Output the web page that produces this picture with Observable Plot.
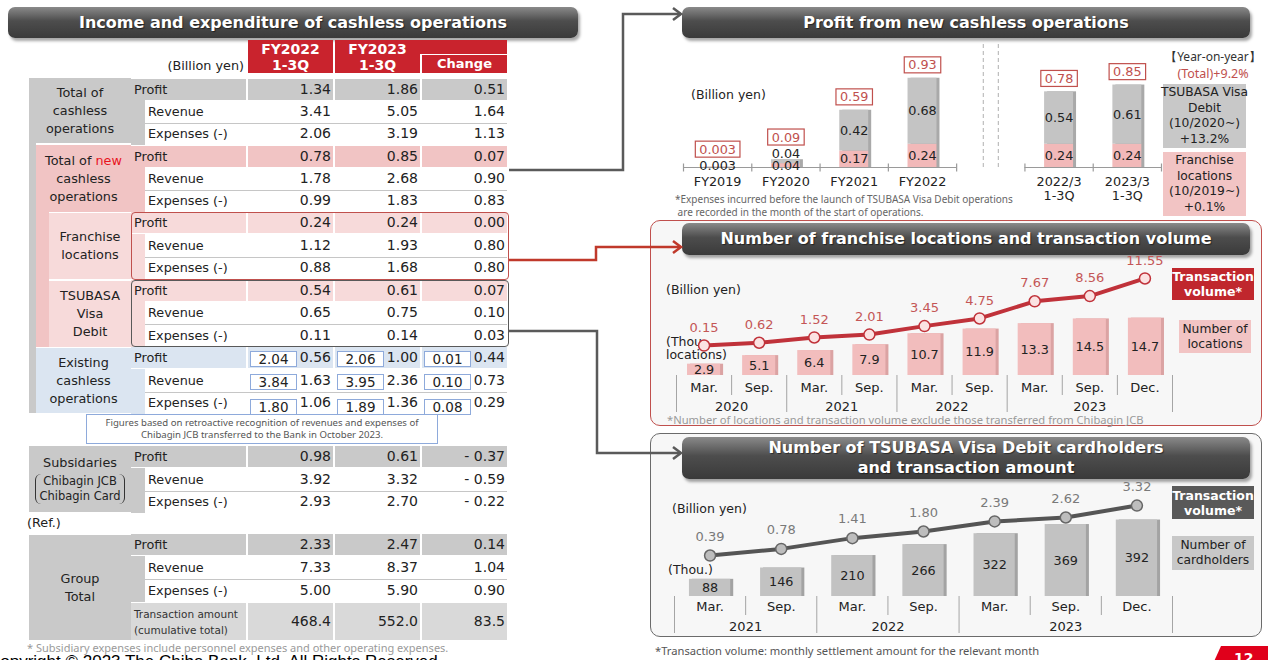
<!DOCTYPE html>
<html><head><meta charset="utf-8">
<script src="https://cdn.jsdelivr.net/npm/d3@7"></script>
<script src="https://cdn.jsdelivr.net/npm/@observablehq/plot@0.6"></script>
<style>
html,body{margin:0;padding:0;}
body{width:1268px;height:660px;overflow:hidden;background:#fff;position:relative;font-family:"DejaVu Sans",sans-serif;}
.a{position:absolute;box-sizing:border-box;white-space:nowrap;}
.cc{display:flex;flex-direction:column;align-items:center;justify-content:center;text-align:center;}
.tb{position:absolute;box-sizing:border-box;border-radius:7px;background:linear-gradient(#8a8a8a,#4d4d4d 45%,#3a3a3a);box-shadow:2px 3px 3px rgba(0,0,0,.35);color:#fff;font:bold 16px "DejaVu Sans";display:flex;flex-direction:column;align-items:center;justify-content:center;text-align:center;text-shadow:1px 1px 1px rgba(0,0,0,.5);line-height:20px;}
svg.plot-host{display:block;overflow:visible;}
</style></head>
<body>
<script>
// ================= DATA =================
// Left table
const columnHeaders = [["FY2022", "1-3Q"], ["FY2023", "1-3Q"], ["Change"]];
const rowLabels = ["Profit", "Revenue", "Expenses (-)"];
const groupLabelHtml = [
  "Total of<br>cashless<br>operations",
  "Total of <span style='color:#e8141e'>new</span><br>cashless<br>operations",
  "Franchise<br>locations",
  "TSUBASA<br>Visa<br>Debit",
  "Existing<br>cashless<br>operations",
  "Subsidaries<div style='border-left:1px solid #333;border-right:1px solid #333;border-radius:6px;padding:0 3px;font-size:11.5px;line-height:15px;margin-top:2px'>Chibagin JCB<br>Chibagin Card</div>",
  "Group<br>Total"
];
const fy2022Values = [1.34, 3.41, 2.06, 0.78, 1.78, 0.99, 0.24, 1.12, 0.88, 0.54, 0.65, 0.11, 0.56, 1.63, 1.06, 0.98, 3.92, 2.93, 2.33, 7.33, 5.00];
const fy2023Values = [1.86, 5.05, 3.19, 0.85, 2.68, 1.83, 0.24, 1.93, 1.68, 0.61, 0.75, 0.14, 1.00, 2.36, 1.36, 0.61, 3.32, 2.70, 2.47, 8.37, 5.90];
const changeValues = [0.51, 1.64, 1.13, 0.07, 0.90, 0.83, 0.00, 0.80, 0.80, 0.07, 0.10, 0.03, 0.44, 0.73, 0.29, -0.37, -0.59, -0.22, 0.14, 1.04, 0.90];
const existingRetro2022 = [2.04, 3.84, 1.80];
const existingRetro2023 = [2.06, 3.95, 1.89];
const existingRetroChange = [0.01, 0.10, 0.08];
const transactionCumulative = [468.4, 552.0, 83.5];

// Profit from new cashless operations
const profitPeriods = ["FY2019", "FY2020", "FY2021", "FY2022", "2022/3\n1-3Q", "2023/3\n1-3Q"];
const franchiseProfit = [0.003, 0.04, 0.17, 0.24, 0.24, 0.24];
const visaProfit = [0, 0.04, 0.42, 0.68, 0.54, 0.61];
const totalProfit = [0.003, 0.09, 0.59, 0.93, 0.78, 0.85];

// Franchise locations and transaction volume
const locMonths = ["Mar.", "Sep.", "Mar.", "Sep.", "Mar.", "Sep.", "Mar.", "Sep.", "Dec."];
const locYears = ["2020", "2020", "2021", "2021", "2022", "2022", "2023", "2023", "2023"];
const locCount = [2.9, 5.1, 6.4, 7.9, 10.7, 11.9, 13.3, 14.5, 14.7];
const locVolume = [0.15, 0.62, 1.52, 2.01, 3.45, 4.75, 7.67, 8.56, 11.55];

// TSUBASA Visa Debit cardholders and transaction amount
const visaMonths = ["Mar.", "Sep.", "Mar.", "Sep.", "Mar.", "Sep.", "Dec."];
const visaYears = ["2021", "2021", "2022", "2022", "2023", "2023", "2023"];
const visaHolders = [88, 146, 210, 266, 322, 369, 392];
const visaVolume = [0.39, 0.78, 1.41, 1.80, 2.39, 2.62, 3.32];

// ================= LAYOUT HELPERS =================
const page = document.body;
function el(x, y, w, h, css, html, cls) {
  const d = document.createElement("div");
  d.className = cls || "a";
  d.style.cssText = `left:${x}px;top:${y}px;width:${w}px;height:${h}px;` + (css || "");
  if (html != null) d.innerHTML = html;
  page.appendChild(d);
  return d;
}
function mount(svg, x, y) {
  const d = el(x, y, +svg.getAttribute("width"), +svg.getAttribute("height"), "");
  svg.classList.add("plot-host");
  d.appendChild(svg);
  return svg;
}
const LBL = "font-family:'DejaVu Sans';font-size:12.8px;color:#222;";
const NUM = "font-family:'DejaVu Sans';font-size:14px;color:#222;";
const fmtChange = v => v < 0 ? "- " + Math.abs(v).toFixed(2) : v.toFixed(2);

// ================= LEFT TABLE =================
el(8, 7, 570, 31, "", "Income and expenditure of cashless operations", "tb");

const RED = "#c9232d", GREY = "#c9c9c9", PINK = "#f1c4c4", LPINK = "#f7dada", BLUE = "#dbe5f1", TXG = "#d9d9d9";
const ROW_Y = [90, 112, 134, 157, 179, 201, 223, 246, 268, 291, 313, 336, 358, 381, 403, 457, 480, 502, 545, 568, 591];
const COL_X = [[248, 333], [335, 420], [422, 507]];
const groupBox = [
  { x: 29, y: 78, b: 143, bg: GREY, row: GREY },
  { x: 36, y: 145, b: 212, bg: PINK, row: PINK },
  { x: 49, y: 213, b: 279, bg: LPINK, row: LPINK },
  { x: 49, y: 281, b: 347, bg: LPINK, row: LPINK },
  { x: 36, y: 348, b: 413, bg: BLUE, row: BLUE },
  { x: 29, y: 446, b: 512, bg: GREY, row: GREY },
  { x: 29, y: 535, b: 640, bg: GREY, row: GREY }
];

// header
const HB = `background:${RED};color:#fff;font:bold 14px 'DejaVu Sans';`;
el(160, 57, 84, 18, LBL + "text-align:right;line-height:18px;", "(Billion yen)");
el(COL_X[0][0], 40, COL_X[0][1] - COL_X[0][0], 33, HB + "line-height:16px;padding-top:1px;text-align:center;", columnHeaders[0].join("<br>"));
el(COL_X[1][0], 40, COL_X[2][1] - COL_X[1][0], 14, HB);
el(COL_X[1][0], 40, COL_X[1][1] - COL_X[1][0], 33, "color:#fff;font:bold 14px 'DejaVu Sans';line-height:16px;padding-top:1px;text-align:center;background:" + RED, columnHeaders[1].join("<br>"));
el(COL_X[2][0], 55, COL_X[2][1] - COL_X[2][0], 18, HB + "font-size:13px;line-height:18px;text-align:center;", columnHeaders[2][0]);

// strips
el(29, 143, 7, 270, "background:" + GREY);
el(36, 212, 13, 135, "background:" + PINK);

// group labels
groupBox.forEach((g, i) => el(g.x, g.y, 131 - g.x, g.b - g.y, `background:${g.bg};line-height:18px;` + LBL, "<div>" + groupLabelHtml[i] + "</div>", "a cc"));

// rows
ROW_Y.forEach((c, r) => {
  const gi = Math.floor(r / 3), k = r % 3, g = groupBox[gi];
  const top = c - 11;
  if (k === 0) {
    el(131, top, 115, 21, `background:${g.row};padding-left:3px;line-height:21px;` + LBL, rowLabels[0]);
    COL_X.forEach(([a, b]) => el(a, top, b - a, 21, "background:" + g.row));
  } else {
    el(131, top - 1, 14, 23, "background:" + g.bg);
    el(148, top, 98, 21, "line-height:21px;" + LBL, rowLabels[k]);
    if (k === 1) el(145, c + 11, 362, 1, "background:#c6c6c6");
  }
  const vals = [fy2022Values[r].toFixed(2), fy2023Values[r].toFixed(2), fmtChange(changeValues[r])];
  COL_X.forEach(([a, b], j) => el(a, top, b - a - 2, 21, "text-align:right;line-height:21px;" + NUM, vals[j]));
  if (gi === 4) {
    const retro = [existingRetro2022[k], existingRetro2023[k], existingRetroChange[k]];
    COL_X.forEach(([a, b], j) => el(a + 2, c - 7 + (k === 2 ? 3 : 0), 47, 16,
      "background:#fff;border:1px solid #8eaadb;text-align:center;line-height:14px;" + NUM + "font-size:13.5px;", retro[j].toFixed(2)));
  }
});
// outlines
el(131, 212, 378, 68, "border:1.5px solid #c0504d;border-radius:4px;");
el(131, 280, 378, 67, "border:1.5px solid #595959;border-radius:4px;");
// note
el(86, 414, 352, 30, "border:1px solid #8eaadb;font-family:'Noto Sans';font-size:9.6px;color:#555;line-height:12px;", "<div>Figures based on retroactive recognition of revenues and expenses of<br>Chibagin JCB transferred to the Bank in October 2023.</div>", "a cc");
el(27, 514, 60, 18, LBL + "line-height:18px;", "(Ref.)");
// transaction row
el(131, 603, 115, 37, `background:${TXG};padding-left:3px;font:10.5px 'DejaVu Sans';color:#333;line-height:16px;padding-top:3px;white-space:normal;`, "Transaction amount<br>(cumulative total)");
COL_X.forEach(([a, b], j) => {
  el(a, 603, b - a, 37, "background:" + TXG);
  el(a, 603, b - a - 2, 37, "text-align:right;line-height:37px;" + NUM, transactionCumulative[j].toFixed(1));
});
el(27, 641, 470, 14, "font-family:'Noto Sans';font-size:11px;color:#9a9a9a;line-height:14px;", "* Subsidiary expenses include personnel expenses and other operating expenses.");
el(-12, 652, 520, 20, "font-family:'Liberation Sans';font-size:17px;color:#000;line-height:20px;", "Copyright © 2023 The Chiba Bank, Ltd. All Rights Reserved.");

// ================= RIGHT PANELS =================
el(650, 220, 612, 206, "border:1.5px solid #c0504d;border-radius:10px;background:#f7f7f7;");
el(650, 433, 612, 204, "border:1.5px solid #6b6b6b;border-radius:10px;background:#f7f7f7;");
el(682, 7, 568, 31, "", "Profit from new cashless operations", "tb");
el(682, 223, 568, 32, "", "Number of franchise locations and transaction volume", "tb");
el(682, 437, 568, 42, "", "Number of TSUBASA Visa Debit cardholders<br>and transaction amount", "tb");

const vline = { draw(ctx, size) { const r = Math.sqrt(size / Math.PI); ctx.moveTo(0, -r); ctx.lineTo(0, r); } };
const baseStyle = { fontFamily: "DejaVu Sans", fontSize: "12.8px", color: "#222", background: "transparent", overflow: "visible" };
const TOTAL_RED = "#c0504d";

// ---------- Chart 1: Profit ----------
const gapSlot = 4, slotCount = profitPeriods.length + 1;
const slotOf = i => i < gapSlot ? i : i + 1;
const fmtP = v => v < 0.01 ? v.toFixed(3) : v.toFixed(2);
const profitRows = profitPeriods.map((p, i) => {
  const d = { period: p, s: slotOf(i), fr: franchiseProfit[i], visa: visaProfit[i], total: totalProfit[i] };
  d.pinkY = Math.max(d.fr / 2, 0.02);
  d.greyY = Math.max(d.fr + d.visa / 2, 0.145);
  const topLbl = d.visa > 0 ? d.greyY : d.pinkY;
  d.boxY = Math.max(d.fr + d.visa + 0.134, topLbl + 0.165);
  return d;
});
const BW1 = 0.212;
const edges1 = [...d3.range(-0.5, gapSlot, 1), ...d3.range(gapSlot + 0.5, slotCount, 1)];
const axisSegs = [{ a: -0.5, b: gapSlot - 0.5 }, { a: gapSlot + 0.5, b: slotCount - 0.5 }];
const chart1 = Plot.plot({
  width: 478, height: 170, marginLeft: 0, marginRight: 0, marginTop: 0, marginBottom: 47,
  x: { domain: [-0.5, slotCount - 0.5], axis: null },
  y: { domain: [0, 1.268], axis: null },
  style: baseStyle,
  marks: [
    Plot.ruleX([gapSlot - 0.11, gapSlot + 0.11], { stroke: "#b0b0b0", strokeDasharray: "4,3" }),
    Plot.rect(profitRows, { x1: d => d.s - BW1, x2: d => d.s + BW1, y1: 0, y2: d => d.fr + d.visa, dx: 3, fill: "#a9a9a9" }),
    Plot.rect(profitRows, { x1: d => d.s - BW1, x2: d => d.s + BW1, y1: 0, y2: "fr", fill: "#f2b9b9" }),
    Plot.rect(profitRows.filter(d => d.visa > 0), { x1: d => d.s - BW1, x2: d => d.s + BW1, y1: "fr", y2: d => d.fr + d.visa, fill: "#c4c4c4" }),
    Plot.ruleY(axisSegs, { x1: "a", x2: "b", y: 0, stroke: "#9a9a9a", strokeWidth: 1.2 }),
    Plot.dot(edges1, { x: d => d, y: 0, r: 4, symbol: vline, stroke: "#9a9a9a", strokeWidth: 1.2, fill: "none" }),
    Plot.text(profitRows, { x: "s", y: "pinkY", text: d => fmtP(d.fr), fill: "#222" }),
    Plot.text(profitRows.filter(d => d.visa > 0), { x: "s", y: "greyY", text: d => fmtP(d.visa), fill: "#222" }),
    Plot.text(profitRows, { x: "s", y: "boxY", text: d => fmtP(d.total), fill: TOTAL_RED }),
    Plot.text(profitRows, { x: "s", y: 0, text: "period", dy: 8, lineAnchor: "top", lineHeight: 1.1, fill: "#222" })
  ]
});
mount(chart1, 683, 44);
// frame each total label with a red-outlined box measured from the rendered text
d3.select(chart1).selectAll("text").filter(function () {
  const f = (this.getAttribute("fill") || this.parentNode.getAttribute("fill") || "").toLowerCase();
  return f === TOTAL_RED;
}).each(function () {
  const b = this.getBBox();
  d3.select(this.parentNode).insert("rect", () => this)
    .attr("transform", this.getAttribute("transform"))
    .attr("x", b.x - 4).attr("y", b.y - 0.5).attr("width", b.width + 8).attr("height", b.height + 1)
    .attr("fill", "#fff").attr("stroke", TOTAL_RED).attr("stroke-width", 1.2);
});
el(691, 87, 100, 16, "font:12.5px 'DejaVu Sans';color:#222;line-height:16px;", "(Billion yen)");
el(675, 193, 360, 28, "font-family:'Noto Sans';font-size:10px;color:#666;line-height:13px;", "*Expenses incurred before the launch of TSUBASA Visa Debit operations<br>&nbsp;are recorded in the month of the start of operations.");
// legend 1
el(1150, 49, 126, 16, "font-family:'Noto Sans';font-size:12px;color:#333;line-height:16px;text-align:center;", "【Year-on-year】");
el(1150, 66, 126, 16, "font-family:'Noto Sans';font-size:12.5px;color:#c0504d;line-height:16px;text-align:center;", "(Total)+9.2%");
el(1163, 84, 83, 64, "background:#c8c8c8;font:12.3px 'DejaVu Sans';color:#222;line-height:15.5px;", "<div>TSUBASA Visa<br>Debit<br>(10/2020~)<br>+13.2%</div>", "a cc");
el(1163, 152, 83, 64, "background:#f2c4c4;font:12.3px 'DejaVu Sans';color:#222;line-height:15.5px;", "<div>Franchise<br>locations<br>(10/2019~)<br>+0.1%</div>", "a cc");

// ---------- helpers for the two monthly charts ----------
function edgesOf(rows) {
  const yearE = [-0.5], monthE = [];
  rows.forEach((d, i) => { if (i > 0) (d.yr !== rows[i - 1].yr ? yearE : monthE).push(i - 0.5); });
  yearE.push(rows.length - 0.5);
  const centers = d3.groups(rows, d => d.yr).map(([yr, arr]) => ({ yr, c: d3.mean(arr, d => d.i) }));
  return { yearE, monthE, centers };
}

// ---------- Chart 2: franchise ----------
const locRows = locMonths.map((m, i) => ({ i, m, yr: locYears[i], n: locCount[i], v: locVolume[i] }));
const locLineY = v => 7.46 + 1.508 * v; // secondary axis mapped onto bar axis
const e2 = edgesOf(locRows);
const chart2 = Plot.plot({
  width: 496, height: 160, marginLeft: 0, marginRight: 0, marginTop: 0, marginBottom: 41,
  x: { domain: [-0.5, locRows.length - 0.5] },
  y: { domain: [0, 30.51], axis: null },
  style: baseStyle,
  marks: [
    Plot.rect(locRows, { x1: d => d.i - 0.3, x2: d => d.i + 0.3, y1: 0, y2: "n", dx: 3, fill: "#dba3a3" }),
    Plot.rect(locRows, { x1: d => d.i - 0.3, x2: d => d.i + 0.3, y1: 0, y2: "n", fill: "#f2bdbd" }),
    Plot.text(locRows, { x: "i", y: d => d.n / 2, text: d => d.n.toFixed(1), fill: "#222" }),
    Plot.axisX(e2.yearE, { tickSize: 37, tickFormat: () => "", stroke: "#a5a5a5", label: null }),
    Plot.axisX(e2.monthE, { tickSize: 20, tickFormat: () => "", stroke: "#a5a5a5", label: null }),
    Plot.text(locRows, { x: "i", y: 0, text: "m", dy: 12, fill: "#222", fontSize: 13 }),
    Plot.text(e2.centers, { x: "c", y: 0, text: "yr", dy: 31, fill: "#222", fontSize: 13 }),
    Plot.line(locRows, { x: "i", y: d => locLineY(d.v), stroke: "#c0323a", strokeWidth: 4 }),
    Plot.dot(locRows, { x: "i", y: d => locLineY(d.v), r: 5.5, fill: "#fbe2e2", stroke: "#c0323a", strokeWidth: 1.5 }),
    Plot.text(locRows, { x: "i", y: d => locLineY(d.v), text: d => d.v.toFixed(2), dy: -18, fill: "#c45656", fontSize: 13 })
  ]
});
el(666, 282, 100, 16, "font:12.5px 'DejaVu Sans';color:#222;line-height:16px;", "(Billion yen)");
el(666, 336, 100, 26, "font:12.5px 'DejaVu Sans';color:#222;line-height:12.5px;", "(Thou.<br>locations)");
mount(chart2, 676, 256);
el(667, 413, 520, 14, "font-family:'Noto Sans';font-size:11.2px;color:#9a9a9a;line-height:14px;", "*Number of locations and transaction volume exclude those transferred from Chibagin JCB");
el(1172, 268, 82, 32, "background:#c0272d;color:#fff;font:bold 12.5px 'DejaVu Sans';line-height:15px;", "<div>Transaction<br>volume*</div>", "a cc");
el(1179, 320, 72, 33, "background:#f2c4c4;color:#222;font:12.3px 'DejaVu Sans';line-height:15px;", "<div>Number of<br>locations</div>", "a cc");

// ---------- Chart 3: TSUBASA Visa Debit ----------
const visaRows = visaMonths.map((m, i) => ({ i, m, yr: visaYears[i], n: visaHolders[i], v: visaVolume[i] }));
const visaLineY = v => 175.9 + 87.5 * v; // secondary axis mapped onto bar axis
const e3 = edgesOf(visaRows);
const chart3 = Plot.plot({
  width: 498, height: 156, marginLeft: 0, marginRight: 0, marginTop: 0, marginBottom: 42,
  x: { domain: [-0.5, visaRows.length - 0.5] },
  y: { domain: [0, 584.6], axis: null },
  style: baseStyle,
  marks: [
    Plot.rect(visaRows, { x1: d => d.i - 0.29, x2: d => d.i + 0.29, y1: 0, y2: "n", dx: 3, fill: "#a3a3a3" }),
    Plot.rect(visaRows, { x1: d => d.i - 0.29, x2: d => d.i + 0.29, y1: 0, y2: "n", fill: "#c2c2c2" }),
    Plot.text(visaRows, { x: "i", y: d => d.n / 2, text: d => String(d.n), fill: "#222" }),
    Plot.axisX(e3.yearE, { tickSize: 37, tickFormat: () => "", stroke: "#a5a5a5", label: null }),
    Plot.axisX(e3.monthE, { tickSize: 19, tickFormat: () => "", stroke: "#a5a5a5", label: null }),
    Plot.text(visaRows, { x: "i", y: 0, text: "m", dy: 10, fill: "#222", fontSize: 13 }),
    Plot.text(e3.centers, { x: "c", y: 0, text: "yr", dy: 30, fill: "#222", fontSize: 13 }),
    Plot.line(visaRows, { x: "i", y: d => visaLineY(d.v), stroke: "#555", strokeWidth: 4 }),
    Plot.dot(visaRows, { x: "i", y: d => visaLineY(d.v), r: 5.5, fill: "#bdbdbd", stroke: "#666", strokeWidth: 1.5 }),
    Plot.text(visaRows, { x: "i", y: d => visaLineY(d.v), text: d => d.v.toFixed(2), dy: -19, fill: "#7a7a7a", fontSize: 13 })
  ]
});
el(672, 501, 100, 16, "font:12.5px 'DejaVu Sans';color:#222;line-height:16px;", "(Billion yen)");
el(668, 562, 100, 16, "font:12.5px 'DejaVu Sans';color:#222;line-height:16px;", "(Thou.)");
mount(chart3, 674, 482);
el(1172, 486, 82, 33, "background:#595959;color:#fff;font:bold 12.5px 'DejaVu Sans';line-height:15px;", "<div>Transaction<br>volume*</div>", "a cc");
el(1172, 536, 82, 34, "background:#c8c8c8;color:#222;font:12.3px 'DejaVu Sans';line-height:15px;", "<div>Number of<br>cardholders</div>", "a cc");
el(655, 643, 430, 15, "font-family:'Noto Sans';font-size:11.2px;color:#555;line-height:15px;", "*Transaction volume: monthly settlement amount for the relevant month");
el(1212, 646, 56, 20, "background:#e0001b;clip-path:polygon(9px 0,100% 0,100% 100%,0 100%);color:#fff;font:bold 14px 'DejaVu Sans';padding-left:22px;line-height:20px;padding-top:2px;", "12");

// ================= CONNECTOR ARROWS =================
const ov = d3.select(page).append("svg").attr("class", "a")
  .style("left", "0px").style("top", "0px").attr("width", 1268).attr("height", 660).style("pointer-events", "none");
const connectors = [
  { pts: [[509, 170], [623, 170], [623, 14], [681, 14]], c: "#5a5a5a" },
  { pts: [[509, 260], [596, 260], [596, 247], [681, 247]], c: "#c0392b" },
  { pts: [[509, 331], [597, 331], [597, 453], [681, 453]], c: "#5a5a5a" }
];
connectors.forEach(({ pts, c }) => {
  ov.append("path").attr("d", d3.line()(pts)).attr("fill", "none").attr("stroke", c).attr("stroke-width", 2.5);
  const [ex, ey] = pts[pts.length - 1];
  ov.append("path").attr("d", d3.line()([[ex - 8, ey - 6], [ex, ey], [ex - 8, ey + 6]])).attr("fill", "none").attr("stroke", c).attr("stroke-width", 2.5);
});
</script>
</body></html>
